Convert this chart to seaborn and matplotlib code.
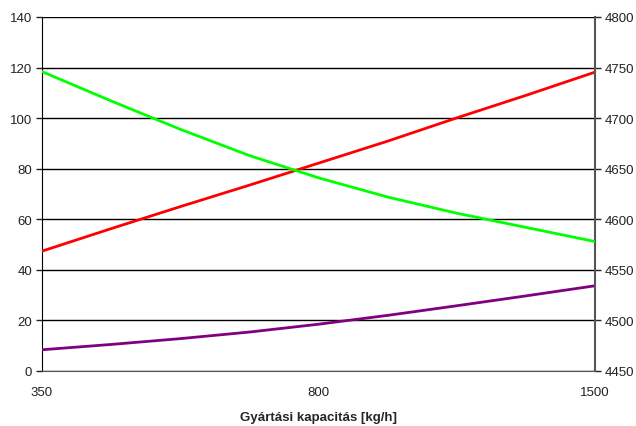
import matplotlib
matplotlib.use("Agg")
import matplotlib.pyplot as plt
import seaborn as sns
import pandas as pd

# adatok
pont = list(range(9))
tick_idx = [0, 4, 8]
tick_labels = ['350', '800', '1500']
piros = [47.4, 56.3, 65.0, 73.5, 82.2, 90.9, 100.1, 109.0, 118.2]
lila = [8.4, 10.5, 12.8, 15.4, 18.5, 22.0, 25.8, 29.7, 33.7]
zold = [4746, 4717, 4689, 4663, 4641, 4622, 4606, 4592, 4578]  # jobb tengely

df_bal = pd.DataFrame({'pont': pont * 2,
                       'ertek': piros + lila,
                       'sor': ['piros'] * len(pont) + ['lila'] * len(pont)})
df_jobb = pd.DataFrame({'pont': pont, 'ertek': zold})

sns.set_style("white")
plt.rcParams['font.family'] = ['Liberation Sans', 'DejaVu Sans']

fig = plt.figure(figsize=(6.36, 4.27), dpi=100)
ax = fig.add_axes([42/636, 1-372/427, (595-42)/636, (372-18)/427])
ax2 = ax.twinx()

sns.lineplot(data=df_bal, x='pont', y='ertek', hue='sor',
             palette={'piros': '#ff0000', 'lila': '#800080'},
             linewidth=2, legend=False, ax=ax, zorder=3)
sns.lineplot(data=df_jobb, x='pont', y='ertek', color='#00ff00',
             linewidth=2, ax=ax2, zorder=3)

ax.set_xlim(0, 8)
ax.set_ylim(0, 140)
ax.set_yticks(range(0, 141, 20))
ax2.set_ylim(4450, 4800)
ax2.set_yticks(range(4450, 4801, 50))
ax.set_xticks(tick_idx)
ax.set_xticklabels(tick_labels)

ax.grid(axis='y', color='black', linewidth=1)
ax.set_axisbelow(True)
ax.set_ylabel('')
ax2.set_ylabel('')
ax.set_xlabel('Gyártási kapacitás [kg/h]', fontsize=9.5, fontweight='bold',
              labelpad=9)

for a in (ax, ax2):
    for s in a.spines.values():
        s.set_visible(False)
    a.tick_params(labelsize=9.5, length=4, width=1, colors='#222222',
                  direction='out', pad=3)

ax.spines['left'].set_visible(True)
ax.spines['left'].set_color('black')
ax.spines['bottom'].set_visible(True)
ax.spines['bottom'].set_color('#555555')
ax2.spines['right'].set_visible(True)
ax2.spines['right'].set_color('#555555')
ax2.spines['right'].set_linewidth(1.5)
ax.tick_params(axis='x', color='#555555', pad=7)
ax.tick_params(axis='y', left=True)
ax2.tick_params(axis='y', right=True)

fig.savefig('out.png', dpi=100)
